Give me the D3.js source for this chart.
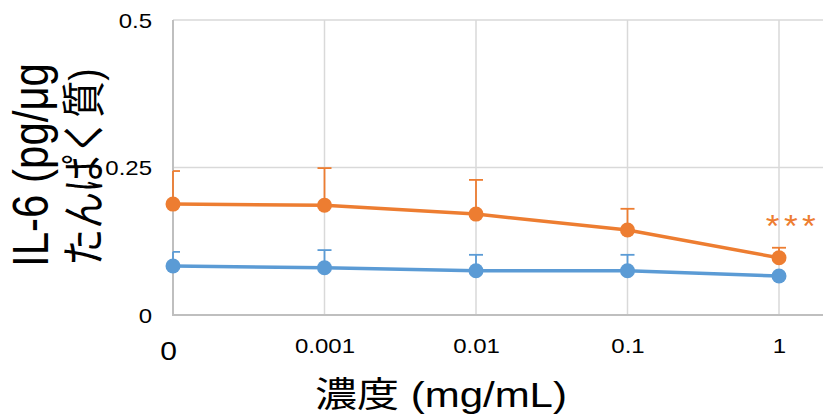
<!DOCTYPE html>
<html><head><meta charset="utf-8">
<script src="https://cdn.jsdelivr.net/npm/d3@7"></script>
<style>body{margin:0;background:#fff;} svg{display:block;font-family:Arial,"Liberation Sans",sans-serif;}</style>
</head><body>
<svg id="c" width="823" height="418"></svg>
<script>
const categories = ["0","0.001","0.01","0.1","1"];
const orangeValues = [0.188,0.186,0.171,0.144,0.097];
const orangeErrors = [0.056,0.063,0.058,0.036,0.017];
const blueValues = [0.083,0.080,0.075,0.075,0.066];
const blueErrors = [0.024,0.030,0.027,0.027,0.003];
const yTicks = [0,0.25,0.5];
const yTickLabels = ["0","0.25","0.5"];

(function(){
const svg = d3.select("#c");
const FONT = "Arial,'Liberation Sans','Noto Sans CJK JP',sans-serif";
const SX = 1.2;
const pL=173, pR=823, pT=20, pB=315;
const step = 151.5;
const x = d3.scalePoint().domain(categories).range([pL, pL+step*4]);
const y = d3.scaleLinear().domain([0,0.5]).range([pB, pT]);

svg.append("g").selectAll("line").data(yTicks.filter(d=>d>0)).join("line")
  .attr("x1",pL).attr("x2",pR).attr("y1",d=>y(d)).attr("y2",d=>y(d))
  .attr("stroke","#d9d9d9").attr("stroke-width",1.5);
svg.append("g").selectAll("line").data(categories.slice(1)).join("line")
  .attr("x1",d=>x(d)).attr("x2",d=>x(d)).attr("y1",pT).attr("y2",pB)
  .attr("stroke","#d9d9d9").attr("stroke-width",1.5);
svg.append("line").attr("x1",pL).attr("x2",pL).attr("y1",pT).attr("y2",pB+1)
  .attr("stroke","#bfbfbf").attr("stroke-width",2);
svg.append("line").attr("x1",pL).attr("x2",pR).attr("y1",pB).attr("y2",pB)
  .attr("stroke","#bfbfbf").attr("stroke-width",2);

const yAxis = d3.axisLeft(y).tickValues(yTicks).tickFormat((d,i)=>yTickLabels[i]).tickSize(0).tickPadding(0);
const ya = svg.append("g").attr("transform",`translate(152,0)`).call(yAxis);
ya.select(".domain").remove();
ya.selectAll("text").attr("x",0).attr("dy",null).attr("y",7)
  .attr("transform",`scale(${SX},1)`)
  .attr("font-size",20).attr("fill","#000").attr("font-family",FONT);

const xAxis = d3.axisBottom(x).tickSize(0).tickPadding(0);
const xa = svg.append("g").attr("transform",`translate(0,${pB})`).call(xAxis);
xa.select(".domain").remove();
xa.selectAll("text").attr("dy",null).attr("y",38)
  .attr("transform",`scale(${SX},1)`)
  .attr("font-size",20).attr("fill","#000").attr("font-family",FONT);
xa.selectAll(".tick").filter(d=>d==="0").select("text")
  .attr("font-size",25).attr("y",45).attr("x",-5/SX);

function series(vals, errs, color){
  const g = svg.append("g");
  const data = categories.map((c,i)=>({c, v:vals[i], e:errs[i]}));
  g.append("g").selectAll("line").data(data).join("line")
    .attr("x1",d=>x(d.c)).attr("x2",d=>x(d.c)).attr("y1",d=>y(d.v)).attr("y2",d=>y(d.v+d.e))
    .attr("stroke",color).attr("stroke-width",1.8);
  g.append("g").selectAll("line").data(data).join("line")
    .attr("x1",d=>x(d.c)-(d.c==="0"?0:7)).attr("x2",d=>x(d.c)+7).attr("y1",d=>y(d.v+d.e)).attr("y2",d=>y(d.v+d.e))
    .attr("stroke",color).attr("stroke-width",1.8);
  g.append("path").datum(data)
    .attr("d",d3.line().x(d=>x(d.c)).y(d=>y(d.v)))
    .attr("fill","none").attr("stroke",color).attr("stroke-width",3.5);
  g.append("g").selectAll("circle").data(data).join("circle")
    .attr("cx",d=>x(d.c)).attr("cy",d=>y(d.v)).attr("r",7.5).attr("fill",color);
}
series(blueValues, blueErrors, "#5B9BD5");
series(orangeValues, orangeErrors, "#ED7D31");

svg.append("text").attr("transform",`translate(${x("1")+14},237) scale(1.1,1)`)
  .attr("text-anchor","middle").attr("font-family",FONT).attr("letter-spacing",4)
  .attr("font-size",32).attr("fill","#ED7D31").text("***");

svg.append("text").attr("transform",`translate(441,407) scale(${SX},1)`).attr("text-anchor","middle")
  .attr("font-size",35).attr("fill","#000").attr("font-family",FONT).text("濃度 (mg/mL)");
const yt = svg.append("text").attr("transform",`translate(0,165) scale(${SX},1) rotate(-90)`)
  .attr("text-anchor","middle").attr("fill","#000").attr("font-family",FONT);
yt.append("tspan").attr("x",0).attr("y",40).attr("font-size",42).text("IL-6 (pg/μg");
yt.append("tspan").attr("x",-2).attr("y",83).attr("font-size",37).text("たんぱく質)");
})();
</script>
</body></html>
